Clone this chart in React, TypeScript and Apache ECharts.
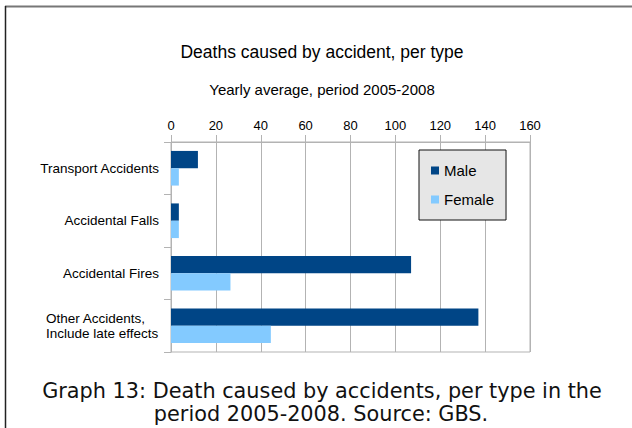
import React, { useEffect, useRef } from "react";
import * as echarts from "echarts";

const categories = [
  "Transport Accidents",
  "Accidental Falls",
  "Accidental Fires",
  "Other Accidents,\nInclude late effects",
];
const maleValues = [12, 3.5, 107, 137];
const femaleValues = [3.5, 3.5, 26.5, 44.5];
const seriesNames = ["Male", "Female"];
const titleText = "Deaths caused by accident, per type";
const subtitleText = "Yearly average, period 2005-2008";
const captionLines = [
  "Graph 13: Death caused by accidents, per type in the",
  "period 2005-2008. Source: GBS.",
];

export default function App() {
  const ref = useRef<HTMLDivElement>(null);
  useEffect(() => {
    document.body.style.margin = "0";
    const chart = echarts.init(ref.current!, undefined, { renderer: "svg" });
    const sans = "'Liberation Sans', Arial, sans-serif";
    const capFont = "20.8px 'DejaVu Sans', Verdana, sans-serif";
    chart.setOption({
      animation: false,
      backgroundColor: "#ffffff",
      textStyle: { fontFamily: sans },
      graphic: [
        { type: "line", shape: { x1: 5, y1: 6.5, x2: 632, y2: 6.5 }, style: { stroke: "#777777", lineWidth: 2 } },
        { type: "line", shape: { x1: 5.5, y1: 6, x2: 5.5, y2: 428 }, style: { stroke: "#222222", lineWidth: 1.5 } },
        {
          type: "text",
          x: 322,
          y: 52,
          style: { text: titleText, textAlign: "center", textVerticalAlign: "middle", font: `17.5px ${sans}`, fill: "#000" },
        },
        {
          type: "text",
          x: 322,
          y: 89,
          style: { text: subtitleText, textAlign: "center", textVerticalAlign: "middle", font: `15px ${sans}`, fill: "#000" },
        },
        {
          type: "text",
          x: 322,
          y: 390.5,
          style: { text: captionLines[0], textAlign: "center", textVerticalAlign: "middle", font: capFont, fill: "#111" },
        },
        {
          type: "text",
          x: 321,
          y: 413.5,
          style: { text: captionLines[1], textAlign: "center", textVerticalAlign: "middle", font: capFont, fill: "#111" },
        },
      ],
      legend: {
        orient: "vertical",
        left: 419,
        top: 150,
        data: seriesNames,
        icon: "rect",
        itemWidth: 8,
        itemHeight: 8,
        itemGap: 14,
        padding: [13, 12, 13, 12],
        backgroundColor: "#e6e6e6",
        borderColor: "#111111",
        borderWidth: 1,
        textStyle: { fontSize: 15, color: "#000", fontFamily: sans, padding: [0, 0, 0, 0] },
      },
      grid: {
        left: 171,
        right: 102,
        top: 142,
        height: 210,
        show: true,
        borderColor: "#b3b3b3",
        borderWidth: 1,
        backgroundColor: "transparent",
      },
      xAxis: {
        type: "value",
        position: "top",
        min: 0,
        max: 160,
        interval: 20,
        axisLine: { show: true, lineStyle: { color: "#b3b3b3" } },
        axisTick: { show: true, length: 7, lineStyle: { color: "#b3b3b3" } },
        axisLabel: { fontSize: 13, color: "#000", margin: 10, fontFamily: sans },
        splitLine: { show: true, lineStyle: { color: "#b3b3b3", width: 1 } },
      },
      yAxis: {
        type: "category",
        inverse: true,
        data: categories,
        axisLine: { show: true, lineStyle: { color: "#b3b3b3" } },
        axisTick: { show: true, length: 7, lineStyle: { color: "#b3b3b3" } },
        axisLabel: {
          fontSize: 13.5,
          color: "#000",
          margin: 12,
          fontFamily: sans,
          formatter: (v: string) => (v.includes("\n") ? v.split("\n").map((s) => `{l|${s}}`).join("\n") : v),
          rich: {
            l: { width: 113, align: "left", fontSize: 13.5, lineHeight: 15, color: "#000", fontFamily: sans },
          },
        },
        splitLine: { show: false },
      },
      series: [
        {
          name: seriesNames[0],
          type: "bar",
          data: maleValues,
          itemStyle: { color: "#004586" },
          barCategoryGap: "34%",
          barGap: "0%",
        },
        {
          name: seriesNames[1],
          type: "bar",
          data: femaleValues,
          itemStyle: { color: "#83caff" },
          barCategoryGap: "34%",
          barGap: "0%",
        },
      ],
    });
    return () => chart.dispose();
  }, []);
  return <div ref={ref} style={{ position: "absolute", left: 0, top: 0, width: 632, height: 428 }} />;
}
